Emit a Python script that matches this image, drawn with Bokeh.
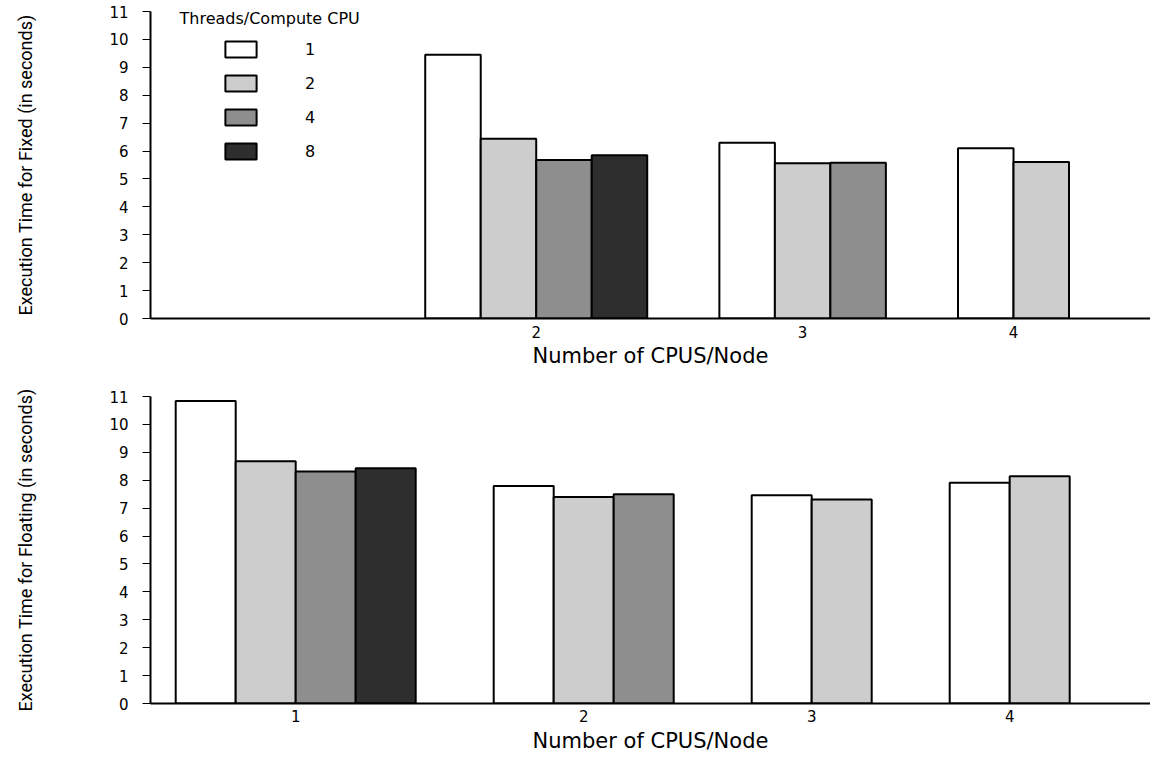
from bokeh.plotting import figure
from bokeh.models import Range1d, FixedTicker, Label, Legend, LegendItem, ColumnDataSource
from bokeh.layouts import column
from bokeh.embed import file_html
from bokeh.resources import INLINE

# ---------------- data ----------------
threads = ["1", "2", "4", "8"]

fixed_cpus = ["2", "3", "4"]
fixed_2 = [9.45, 6.44, 5.68, 5.85]
fixed_3 = [6.30, 5.56, 5.58]
fixed_4 = [6.10, 5.61]

floating_cpus = ["1", "2", "3", "4"]
floating_1 = [10.84, 8.68, 8.31, 8.43]
floating_2 = [7.79, 7.40, 7.50]
floating_3 = [7.46, 7.31]
floating_4 = [7.91, 8.14]

y_ticks = list(range(0, 12))

x_title = "Number of CPUS/Node"
fixed_ylabel = "Execution Time for Fixed (in seconds)"
floating_ylabel = "Execution Time for Floating (in seconds)"
legend_title = "Threads/Compute CPU"

# ---------------- style ----------------
FILLS = ["#ffffff", "#cdcdcd", "#8e8e8e", "#2e2e2e"]
FIG_W = 1150
BORDER_L = 150
FRAME_W = FIG_W - BORDER_L
NARROW = "Roboto"
WIDE = "DejaVu Sans"


def make_panel(cpus, groups, ylabel, unit_px, lead, gap, height, b_top, b_bottom,
               tick_standoff, title_standoff):
    p = figure(width=FIG_W, height=height,
               x_range=Range1d(0, FRAME_W / unit_px), y_range=Range1d(0, 11),
               min_border_left=BORDER_L, min_border_right=0,
               min_border_top=b_top, min_border_bottom=b_bottom,
               output_backend="svg", toolbar_location=None)
    p.outline_line_color = None
    p.xgrid.visible = False
    p.ygrid.visible = False
    p.background_fill_color = "white"
    p.border_fill_color = "white"

    # layout of bar clusters (in bar-width units)
    xs = {k: [] for k in range(len(threads))}
    tops = {k: [] for k in range(len(threads))}
    centers = []
    start = lead
    for vals in groups:
        for j, v in enumerate(vals):
            xs[j].append(start + j + 0.5)
            tops[j].append(v)
        centers.append(start + len(vals) / 2.0)
        start += len(vals) + gap

    renderers = []
    for k in range(len(threads)):
        if xs[k]:
            src = ColumnDataSource(dict(x=xs[k], top=tops[k]))
            r = p.vbar(x="x", top="top", width=1.0, bottom=0, source=src,
                       fill_color=FILLS[k], line_color="black", line_width=2)
            renderers.append(r)

    # x axis
    xa = p.xaxis[0]
    xa.ticker = FixedTicker(ticks=centers)
    xa.major_label_overrides = {c: lab for c, lab in zip(centers, cpus)}
    xa.minor_tick_line_color = None
    xa.major_tick_out = 0
    xa.major_tick_in = 0
    xa.axis_line_width = 2
    xa.major_label_text_font = WIDE
    xa.major_label_text_font_size = "15px"
    xa.major_label_text_color = "black"
    xa.major_label_standoff = tick_standoff
    xa.axis_label = x_title
    xa.axis_label_text_font = WIDE
    xa.axis_label_text_font_size = "21px"
    xa.axis_label_text_font_style = "normal"
    xa.axis_label_text_color = "black"
    xa.axis_label_standoff = title_standoff

    # y axis
    ya = p.yaxis[0]
    ya.ticker = FixedTicker(ticks=y_ticks)
    ya.minor_tick_line_color = None
    ya.major_tick_out = 8
    ya.major_tick_in = 0
    ya.major_tick_line_width = 1
    ya.axis_line_width = 2
    ya.major_label_text_font = WIDE
    ya.major_label_text_font_size = "15px"
    ya.major_label_text_color = "black"
    ya.major_label_standoff = 14
    ya.axis_label = ylabel
    ya.axis_label_text_font = NARROW
    ya.axis_label_text_font_size = "18px"
    ya.axis_label_text_font_style = "normal"
    ya.axis_label_text_color = "black"
    ya.axis_label_standoff = 70
    return p, renderers


top, top_renderers = make_panel(fixed_cpus, [fixed_2, fixed_3, fixed_4], fixed_ylabel,
                                unit_px=55.5, lead=4.95, gap=1.3, height=372,
                                b_top=11, b_bottom=54, tick_standoff=7, title_standoff=3)

# legend (top panel)
items = [LegendItem(label=t, renderers=[r]) for t, r in zip(threads, top_renderers)]
legend = Legend(items=items, location=(71, 157), orientation="vertical",
                border_line_color=None, background_fill_alpha=0,
                padding=0, margin=0, spacing=14,
                glyph_width=39, glyph_height=20, label_height=20,
                label_standoff=45, label_text_font=WIDE,
                label_text_font_size="16px", label_text_color="black")
top.add_layout(legend)
top.add_layout(Label(x=29, y=300, x_units="screen", y_units="screen",
                     text=legend_title, text_font=WIDE, text_font_size="16px",
                     text_baseline="middle", text_align="left", text_color="black"))

bottom, _ = make_panel(floating_cpus, [floating_1, floating_2, floating_3, floating_4],
                       floating_ylabel, unit_px=60.0, lead=0.42, gap=1.3,
                       height=383, b_top=24, b_bottom=50,
                       tick_standoff=6, title_standoff=4)

layout = column(top, bottom, spacing=0)
open("out.html", "w").write(file_html(layout, INLINE))
